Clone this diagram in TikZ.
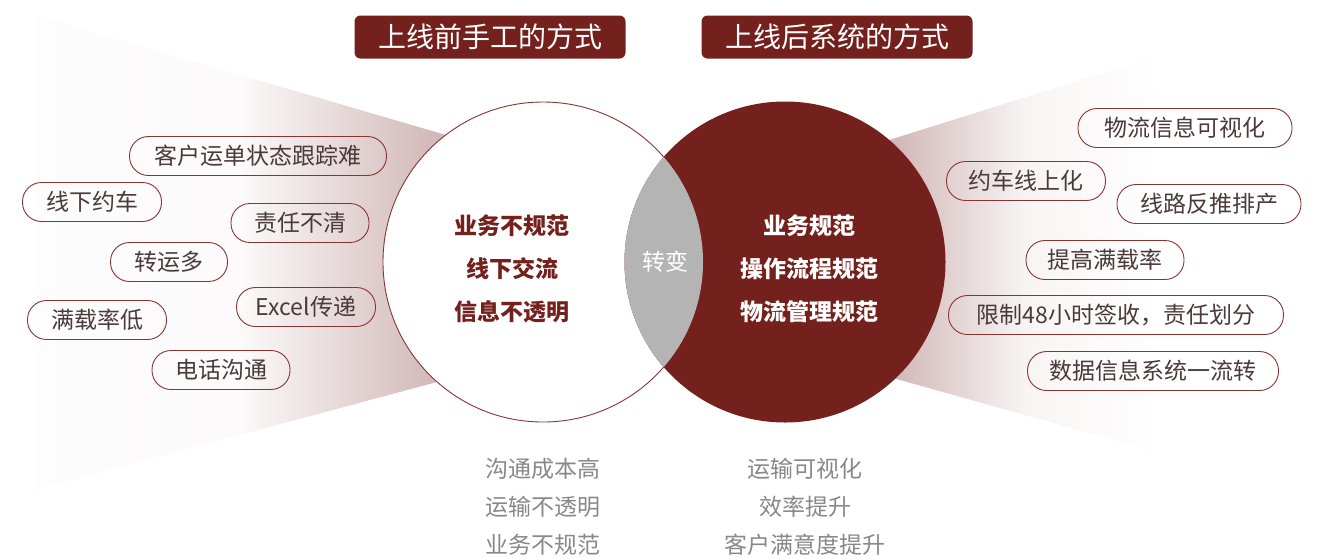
\documentclass[tikz,border=0pt]{standalone}
\usepackage{fontspec}
\setmainfont{Noto Sans CJK SC}
\usetikzlibrary{positioning}
\definecolor{deepred}{HTML}{74201C}
\definecolor{pillred}{HTML}{8A3430}
\definecolor{pilltext}{HTML}{4A3A3A}
\definecolor{fanpink}{HTML}{D0B5B5}
\definecolor{lensgray}{HTML}{B4B4B4}
\definecolor{notegray}{HTML}{888888}

\begin{document}
\begin{tikzpicture}[x=1pt,y=-1pt,
	pill/.style={draw=pillred, line width=0.9pt, rounded corners=19pt,
		minimum height=39pt, inner sep=0pt, text=pilltext,
		font=\fontsize{23}{23}\selectfont},
	headbox/.style={fill=deepred, rounded corners=6pt, minimum width=271pt,
		minimum height=43pt, text=white, font=\fontsize{28}{28}\selectfont},
	circletext/.style={font=\bfseries\fontsize{23}{23}\selectfont},
	bottomnote/.style={text=notegray, font=\fontsize{23}{23}\selectfont}]
	\useasboundingbox (0,0) rectangle (1319,558);
	\coordinate (lc) at (543,262);
	\coordinate (rc) at (785,262);
	\shade[left color=fanpink!3, right color=fanpink, middle color=fanpink!7]
		(35,15) -- (446,135) -- (437,382) -- (35,490) -- cycle;
	\shade[left color=fanpink, right color=white, middle color=fanpink!15]
		(889,140) -- (1160,55) -- (1160,453) -- (893,378) -- cycle;
	\node[circle, draw=pillred, line width=0.9pt, fill=white, inner sep=0pt,
		minimum size=320pt] (manual) at (lc) {};
	\node[circle, fill=deepred, inner sep=0pt, minimum size=321pt] (system) at (rc) {};
	\begin{scope}
		\clip (lc) circle (160pt);
		\fill[lensgray] (rc) circle (160.5pt);
	\end{scope}
	\node[text=white, font=\fontsize{23}{23}\selectfont] (shift) at (665,262) {转变};
	\node[headbox] (before) at (490,37) {上线前手工的方式};
	\node[headbox] (after) at (837,37) {上线后系统的方式};
	\node[circletext, text=deepred] (m1) at (512,226) {业务不规范};
	\node[circletext, text=deepred] (m2) at (512,269) {线下交流};
	\node[circletext, text=deepred] (m3) at (512,312) {信息不透明};
	\node[circletext, text=white] (s1) at (809,226) {业务规范};
	\node[circletext, text=white] (s2) at (809,269) {操作流程规范};
	\node[circletext, text=white] (s3) at (809,312) {物流管理规范};
	\node[pill, minimum width=257pt] (p1) at (258,156) {客户运单状态跟踪难};
	\node[pill, minimum width=139pt] (p2) at (92,202) {线下约车};
	\node[pill, minimum width=138pt] (p3) at (300,223) {责任不清};
	\node[pill, minimum width=117pt] (p4) at (169,262) {转运多};
	\node[pill, minimum width=139pt] (p5) at (306,307) {Excel传递};
	\node[pill, minimum width=139pt] (p6) at (97,320) {满载率低};
	\node[pill, minimum width=138pt] (p7) at (221,370) {电话沟通};
	\node[pill, minimum width=214pt] (q1) at (1185,128) {物流信息可视化};
	\node[pill, minimum width=159pt] (q2) at (1026,181) {约车线上化};
	\node[pill, minimum width=184pt] (q3) at (1209,204) {线路反推排产};
	\node[pill, minimum width=158pt] (q4) at (1105,260) {提高满载率};
	\node[pill, minimum width=335pt] (q5) at (1116,315) {限制48小时签收，责任划分};
	\node[pill, minimum width=251pt] (q6) at (1153,371) {数据信息系统一流转};
	\node[bottomnote] (n1) at (543,469) {沟通成本高};
	\node[bottomnote] (n2) at (543,507) {运输不透明};
	\node[bottomnote] (n3) at (543,545) {业务不规范};
	\node[bottomnote] (r1) at (805,469) {运输可视化};
	\node[bottomnote] (r2) at (805,507) {效率提升};
	\node[bottomnote] (r3) at (805,545) {客户满意度提升};
\end{tikzpicture}
\end{document}
